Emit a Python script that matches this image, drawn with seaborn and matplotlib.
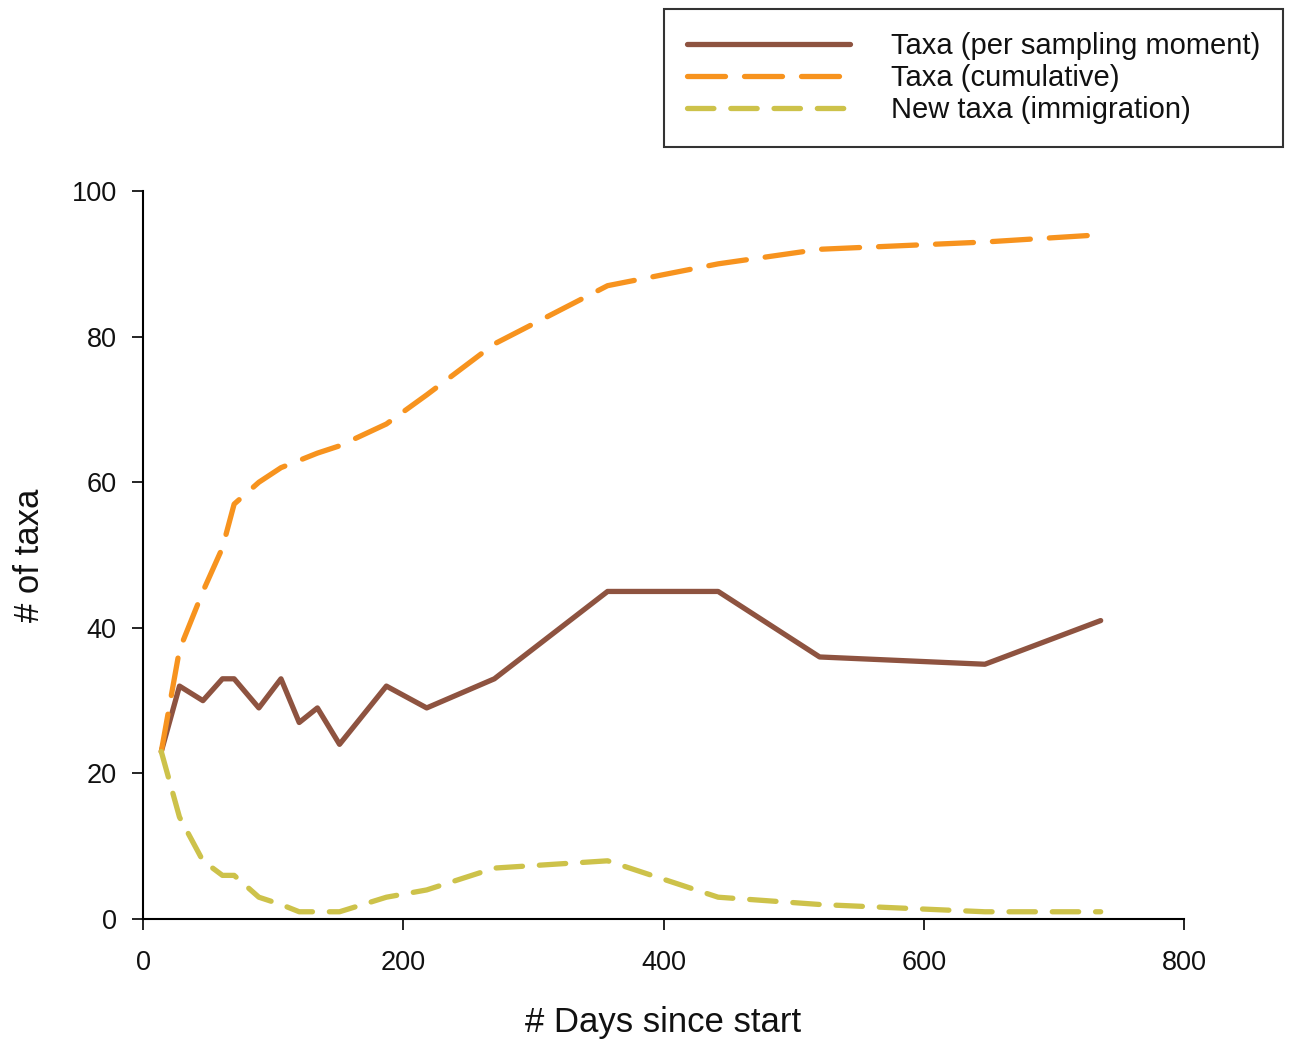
import seaborn as sns
import matplotlib.pyplot as plt
import pandas as pd

days = [14, 28, 46, 61, 70, 89, 106, 120, 134, 151, 187, 218, 270, 357, 442, 520, 647, 736]
taxa_sampling = [23, 32, 30, 33, 33, 29, 33, 27, 29, 24, 32, 29, 33, 45, 45, 36, 35, 41]
taxa_cumulative = [23, 37, 45, 51, 57, 60, 62, 63, 64, 65, 68, 72, 79, 87, 90, 92, 93, 94]
new_taxa = [23, 14, 8, 6, 6, 3, 2, 1, 1, 1, 3, 4, 7, 8, 3, 2, 1, 1]

labels = ["Taxa (per sampling moment)", "Taxa (cumulative)", "New taxa (immigration)"]
colors = ["#8E5340", "#F7931E", "#CDC24A"]
styles = ["-", (0, (7.2, 3.6)), (0, (5.0, 3.2))]


def plot_taxa():
    df = pd.DataFrame({"days": days, labels[0]: taxa_sampling,
                       labels[1]: taxa_cumulative, labels[2]: new_taxa})

    fig = plt.figure(figsize=(12.9, 10.4), dpi=100)
    ax = fig.add_axes([0.1109, 0.1163, 0.8069, 0.7000])

    for lab, col, ls in zip(labels, colors, styles):
        sns.lineplot(data=df, x="days", y=lab, color=col, linestyle=ls,
                     linewidth=3.8, estimator=None, label=lab, ax=ax,
                     solid_capstyle="round", dash_capstyle="round")

    ax.set_xlim(0, 800)
    ax.set_ylim(0, 100)
    ax.set_xticks([0, 200, 400, 600, 800])
    ax.set_yticks([0, 20, 40, 60, 80, 100])
    ax.set_xlabel("# Days since start", fontsize=25, labelpad=22, color="#111111")
    ax.set_ylabel("# of taxa", fontsize=25, labelpad=18, color="#111111")
    ax.tick_params(axis="both", labelsize=19.5, length=8, width=1.2,
                   color="black", labelcolor="#111111")
    ax.tick_params(axis="x", pad=14)
    ax.tick_params(axis="y", pad=11)
    for s in ["left", "bottom"]:
        ax.spines[s].set_linewidth(1.5)
        ax.spines[s].set_color("black")
    sns.despine(ax=ax)

    ax.legend_.remove()
    handles, labs = ax.get_legend_handles_labels()
    leg = fig.legend(handles, labs, loc="upper right",
                     bbox_to_anchor=(0.9946, 0.9913), borderaxespad=0,
                     fontsize=21, frameon=True, fancybox=False,
                     handlelength=5.6, handletextpad=1.4, labelspacing=0.14,
                     borderpad=0.78)
    leg.get_frame().set_edgecolor("black")
    leg.get_frame().set_linewidth(1.5)
    for t in leg.get_texts():
        t.set_color("#111111")

    fig.savefig("out.png", dpi=100)


if __name__ == '__main__':
    sns.set_style("ticks")
    plt.rcParams["font.family"] = ["Liberation Sans", "DejaVu Sans"]
    plot_taxa()
